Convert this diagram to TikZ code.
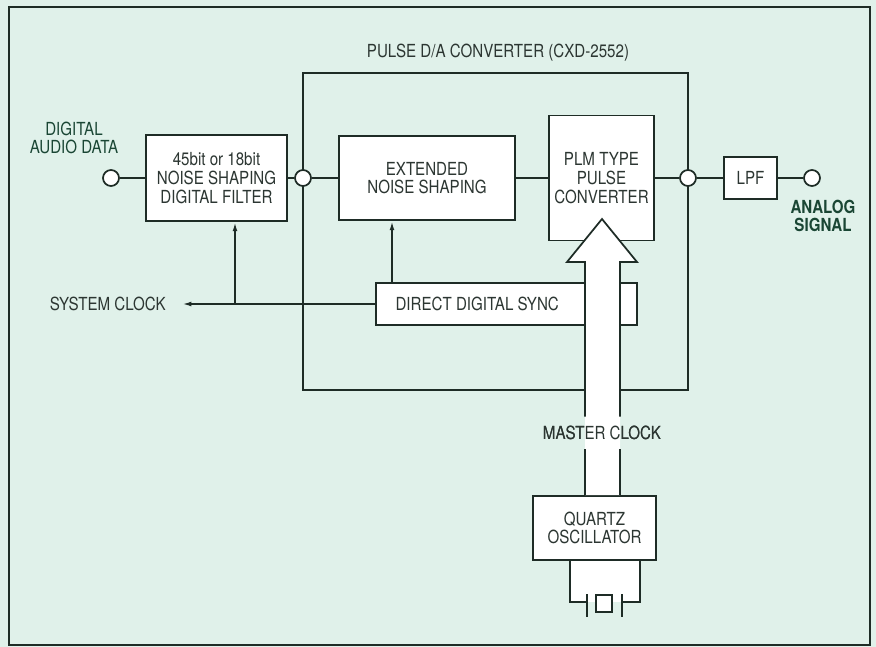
\documentclass[tikz,border=0pt]{standalone}
\usepackage{fontspec}
\setmainfont{TeX Gyre Heros}[FakeStretch=0.84]
\usepackage{tikz}
\usetikzlibrary{arrows.meta,positioning,calc}
\definecolor{cBack}{RGB}{224,241,234}
\definecolor{cLine}{RGB}{30,44,38}
\definecolor{cText}{RGB}{44,54,50}
\definecolor{cSig}{RGB}{26,70,52}
\newcommand{\blkfont}{\fontsize{13.5}{14}\selectfont}
\tikzset{
  blk/.style={draw=cLine, fill=white, line width=1.3pt, align=center,
              font=\blkfont, text=cText, inner sep=2pt},
  dot/.style={circle, draw=cLine, fill=white, line width=1.3pt,
              minimum size=12pt, inner sep=0pt},
  wire/.style={draw=cLine, line width=1.3pt},
  arr/.style={wire, -{Latex[length=7pt,width=3.6pt]}},
  lbl/.style={font=\blkfont, text=cText, align=center, inner sep=0pt},
  sig/.style={lbl, text=cSig},
}

\begin{document}
\begin{tikzpicture}[x=0.75pt, y=-0.75pt]
  \fill[cBack] (0,0) rectangle (876,647);
  \useasboundingbox (0,0) rectangle (876,647);
  \draw[cLine, line width=1.3pt] (9,7) rectangle (870,645);

  % ---- converter outline ----
  \node[draw=cLine, line width=1.3pt, minimum width=288.75pt, minimum height=237.75pt] (dac) at (495.5,231.5) {};
  \node[lbl] (title) at (498,53) {PULSE D/A CONVERTER (CXD-2552)};

  % ---- signal path ----
  \node[dot] (inC) at (111,178) {};
  \node[sig] at (74,138) {DIGITAL\\AUDIO DATA};
  \node[blk, minimum width=105.75pt, minimum height=64.5pt] (filter) at (216.5,178) {45bit or 18bit\\NOISE SHAPING\\DIGITAL FILTER};
  \node[dot] (jL) at (303,178) {};
  \node[blk, minimum width=132pt, minimum height=63pt] (extns) at (427,178) {EXTENDED\\NOISE SHAPING};
  \node[blk, minimum width=78.75pt, minimum height=93.75pt] (plm) at (601.5,178) {PLM TYPE\\PULSE\\CONVERTER};
  \node[dot] (jR) at (688,178) {};
  \node[blk, minimum width=39.75pt, minimum height=31.5pt] (lpf) at (750.5,178) {LPF};
  \node[dot] (outC) at (812,178) {};
  \node[sig, font=\blkfont\bfseries] at (823,216) {ANALOG\\SIGNAL};
  \draw[wire] (inC) -- (filter);
  \draw[wire] (filter) -- (jL);
  \draw[wire] (jL) -- (extns);
  \draw[wire] (extns) -- (plm);
  \draw[wire] (plm) -- (jR);
  \draw[wire] (jR) -- (lpf);
  \draw[wire] (lpf) -- (outC);

  % ---- clock distribution ----
  \node[blk, minimum width=195.75pt, minimum height=31.5pt] (dds) at (506.5,304) {DIRECT DIGITAL SYNC\hspace{44pt}};
  \coordinate (clkend) at (182,304);
  \node[lbl, left=12pt of clkend] (sysclk) {SYSTEM CLOCK};
  \coordinate (fb) at (235,304);
  \coordinate (eb) at (392,283);
  \draw[arr] (dds.west) -- (clkend);
  \draw[arr] (fb) -- (fb |- filter.south);
  \draw[arr] (eb) -- (eb |- extns.south);

  % ---- master clock arrow ----
  \node[blk, minimum width=92.25pt, minimum height=48pt] (quartz) at (594.5,528) {QUARTZ\\OSCILLATOR};
  \node[lbl, inner ysep=7pt] (mclk) at (602,433) {MASTER CLOCK};
  \coordinate (tip) at (602,219);
  \coordinate (hl) at (567,262);
  \coordinate (hr) at (637,262);
  \coordinate (sl) at (585,262);
  \coordinate (sr) at (620,262);
  \fill[white] (tip) -- (hr) -- (sr) -- (sr |- quartz.north) -- (sl |- quartz.north) -- (sl) -- (hl) -- cycle;
  \draw[wire] (sl |- mclk.north) -- (sl) -- (hl) -- (tip) -- (hr) -- (sr) -- (sr |- mclk.north);
  \draw[wire] (sl |- mclk.south) -- (sl |- quartz.north);
  \draw[wire] (sr |- mclk.south) -- (sr |- quartz.north);
  \node[lbl] at (mclk) {MASTER CLOCK};

  % ---- crystal ----
  \coordinate (xl) at (570,602);
  \coordinate (xr) at (640,602);
  \fill[white] (xl |- quartz.south) rectangle (xr);
  \draw[wire] (xl |- quartz.south) -- (xl) -- (587,602);
  \draw[wire] (xr |- quartz.south) -- (xr) -- (622,602);
  \draw[wire] (587,594) -- (587,617);
  \draw[wire] (622,594) -- (622,617);
  \draw[wire, fill=white] (596,595) rectangle (612,612);
\end{tikzpicture}
\end{document}
